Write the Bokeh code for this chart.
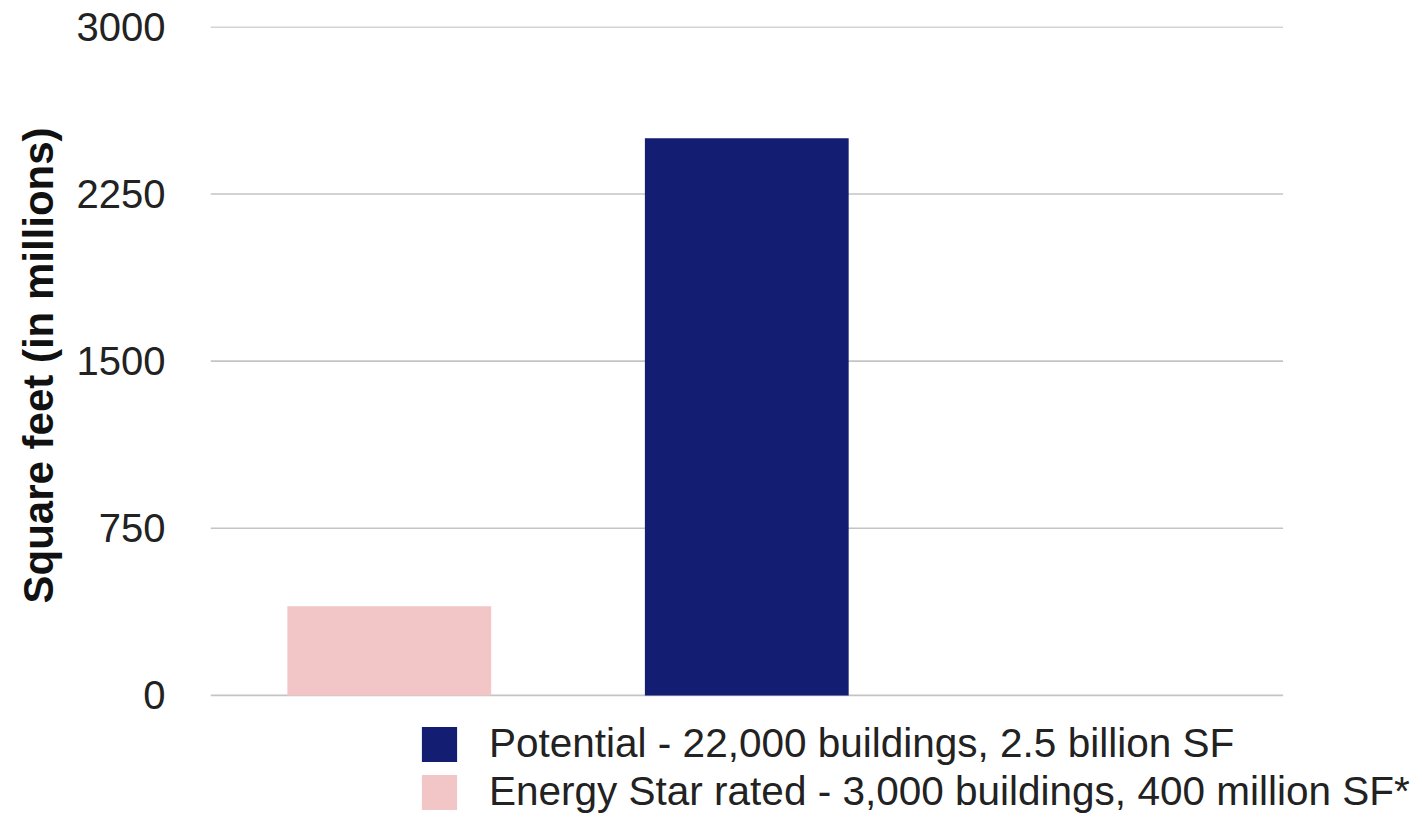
import numpy as np
from bokeh.plotting import figure
from bokeh.models import Range1d, FixedTicker, Legend, LegendItem, ColumnDataSource, Title
from bokeh.embed import file_html
from bokeh.resources import INLINE

# data
slots = ["Energy Star rated", "Potential", "spare"]
series_names = ["Potential - 22,000 buildings, 2.5 billion SF",
                "Energy Star rated - 3,000 buildings, 400 million SF*"]
energy_star_value = [400]
potential_value = [2500]
y_ticks = [0, 750, 1500, 2250, 3000]
y_label = "Square feet (in millions)"

NAVY = "#131d72"
PINK = "#f2c6c7"
FONT = "Liberation Sans"
GRID = "#c4c4c4"

slot_centers = np.arange(len(slots)) + 0.5

# the frame extends to the right/bottom page edges so that the legend
# (which sits under the bars) is not clipped; gridlines are drawn only over the slots
p = figure(width=1422, height=817, output_backend="svg", toolbar_location=None,
           x_range=Range1d(0, 3.39), y_range=Range1d(-548, 3002),
           min_border_left=210, min_border_right=0, min_border_top=26,
           min_border_bottom=0)
p.outline_line_color = None
p.background_fill_color = "white"
p.border_fill_color = "white"
p.xaxis.visible = False
p.xgrid.visible = False
p.ygrid.visible = False

# gridlines at the y ticks over the category slots
p.segment(x0=0, x1=len(slots), y0=y_ticks, y1=y_ticks, line_color=GRID, line_width=1.6)

src_es = ColumnDataSource(dict(x=[slot_centers[0]], top=energy_star_value))
src_pot = ColumnDataSource(dict(x=[slot_centers[1]], top=potential_value))

r_es = p.vbar(x="x", top="top", bottom=0, width=0.57, source=src_es, fill_color=PINK, line_color=None)
r_pot = p.vbar(x="x", top="top", bottom=0, width=0.57, source=src_pot, fill_color=NAVY, line_color=None)

ya = p.yaxis[0]
ya.ticker = FixedTicker(ticks=y_ticks)
ya.axis_line_color = None
ya.major_tick_line_color = None
ya.minor_tick_line_color = None
ya.major_tick_out = 0
ya.major_label_standoff = 45
ya.major_label_text_font = FONT
ya.major_label_text_font_size = "40px"
ya.major_label_text_color = "#222222"

ylab = Title(text=y_label, align="left", offset=214, standoff=24,
             text_font=FONT, text_font_style="bold", text_font_size="42px",
             text_color="#111111")
p.add_layout(ylab, "left")

legend = Legend(items=[LegendItem(label=series_names[0], renderers=[r_pot]),
                       LegendItem(label=series_names[1], renderers=[r_es])],
                location=(207, 2), orientation="vertical",
                glyph_width=44, glyph_height=44, label_standoff=28,
                label_text_font=FONT, label_text_font_size="40.5px",
                label_text_color="#222222", padding=0, spacing=1, margin=0,
                border_line_color=None, background_fill_alpha=0,
                label_height=40)
p.add_layout(legend, "center")

open("out.html", "w").write(file_html(p, INLINE))
